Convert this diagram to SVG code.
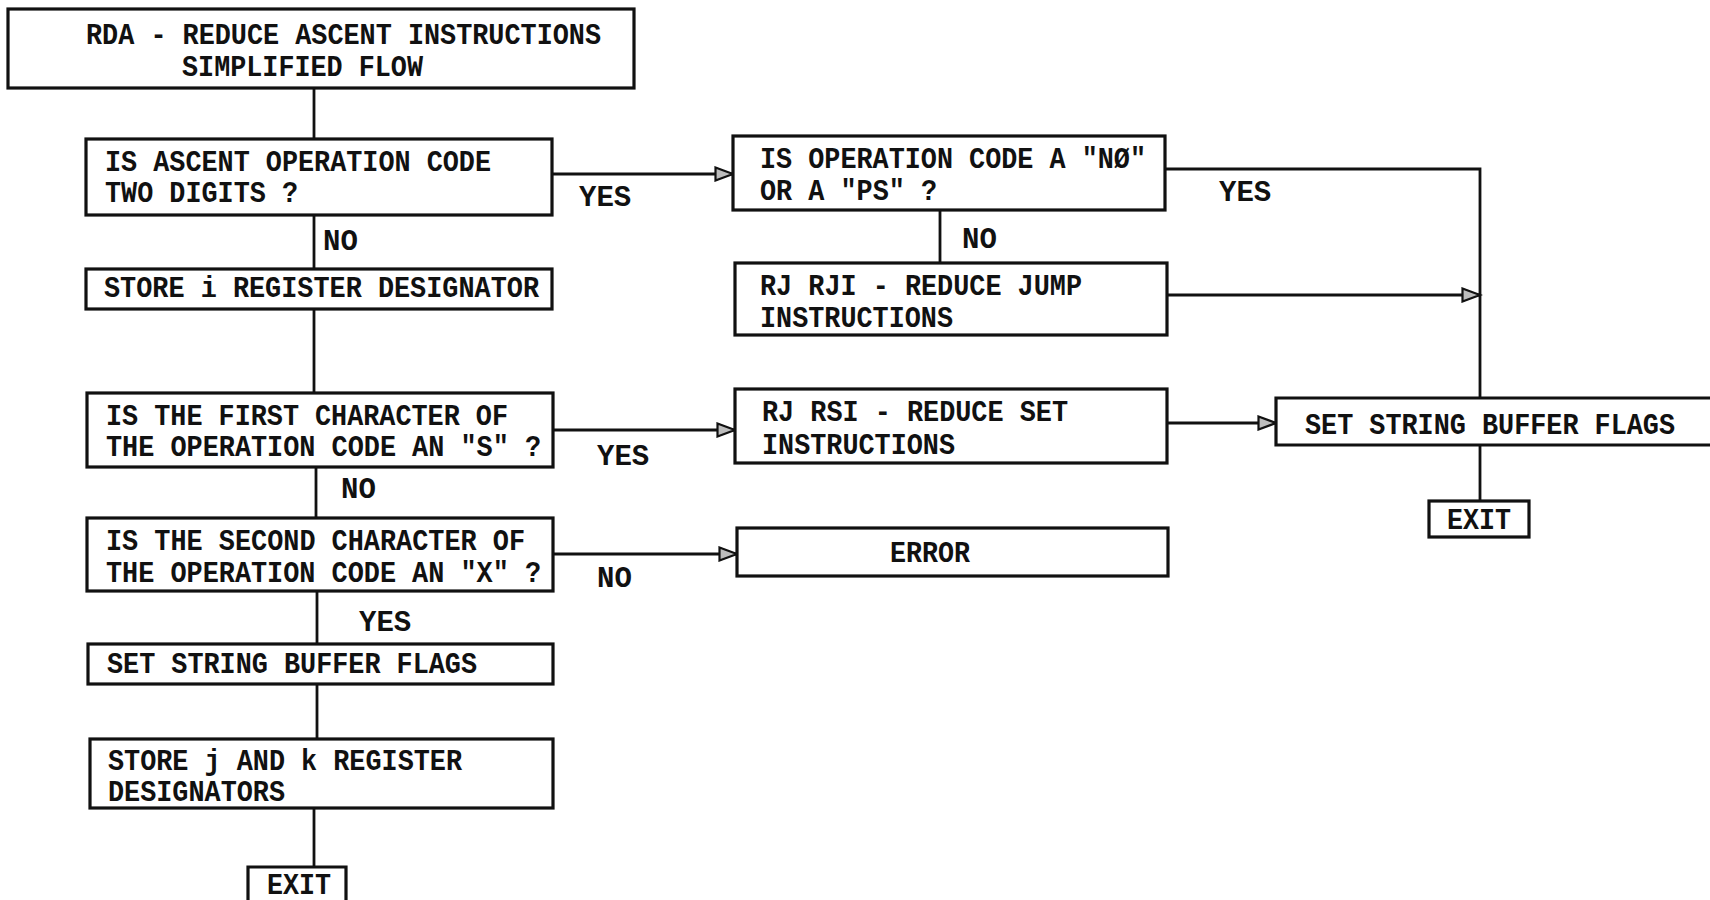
<svg xmlns="http://www.w3.org/2000/svg" width="1710" height="900" viewBox="0 0 1710 900">
<style>
.bg{fill:#fff}
.box{fill:#fff;stroke:#111;stroke-width:3.2}
.con{fill:none;stroke:#111;stroke-width:2.8}
.t{font-family:"Liberation Mono","Courier New",monospace;font-size:29px;font-weight:bold;fill:#111}
.lbl{font-family:"Liberation Mono","Courier New",monospace;font-size:29px;font-weight:bold;fill:#111}
</style>
<defs>
<marker id="arr" markerWidth="22" markerHeight="16" refX="19" refY="8" orient="auto" markerUnits="userSpaceOnUse">
<path d="M1.5,1.5 L19,8 L1.5,14.5 Z" fill="#bdbdbd" stroke="#111" stroke-width="2.2"/>
</marker>
</defs>
<rect class="bg" x="0" y="0" width="1710" height="900"/>
<g id="connectors">
<line class="con" x1="314" y1="88" x2="314" y2="139"/>
<line class="con" x1="552" y1="174" x2="733" y2="174" marker-end="url(#arr)"/>
<path class="con" d="M1165,169 H1480 V398"/>
<line class="con" x1="940" y1="210" x2="940" y2="263"/>
<line class="con" x1="1167" y1="295" x2="1480" y2="295" marker-end="url(#arr)"/>
<line class="con" x1="314" y1="215" x2="314" y2="269"/>
<line class="con" x1="314" y1="309" x2="314" y2="393"/>
<line class="con" x1="553" y1="430" x2="735" y2="430" marker-end="url(#arr)"/>
<line class="con" x1="1167" y1="423" x2="1276" y2="423" marker-end="url(#arr)"/>
<line class="con" x1="1480" y1="445" x2="1480" y2="501"/>
<line class="con" x1="316" y1="467" x2="316" y2="518"/>
<line class="con" x1="553" y1="554" x2="737" y2="554" marker-end="url(#arr)"/>
<line class="con" x1="317" y1="591" x2="317" y2="644"/>
<line class="con" x1="317" y1="684" x2="317" y2="739"/>
<line class="con" x1="314" y1="808" x2="314" y2="867"/>
<text class="lbl" x="579" y="206">YES</text>
<text class="lbl" x="1219" y="201">YES</text>
<text class="lbl" x="962" y="248">NO</text>
<text class="lbl" x="323" y="250">NO</text>
<text class="lbl" x="597" y="465">YES</text>
<text class="lbl" x="341" y="498">NO</text>
<text class="lbl" x="597" y="587">NO</text>
<text class="lbl" x="359" y="631">YES</text>
</g>
<g id="title">
<rect class="box" x="8" y="9" width="626" height="79"/>
<text class="t" x="86" y="44" textLength="515" lengthAdjust="spacingAndGlyphs">RDA - REDUCE ASCENT INSTRUCTIONS</text>
<text class="t" x="182" y="76" textLength="241" lengthAdjust="spacingAndGlyphs">SIMPLIFIED FLOW</text>
</g>
<g id="q-two-digits">
<rect class="box" x="86" y="139" width="466" height="76"/>
<text class="t" x="105" y="171" textLength="386" lengthAdjust="spacingAndGlyphs">IS ASCENT OPERATION CODE</text>
<text class="t" x="105" y="202" textLength="193" lengthAdjust="spacingAndGlyphs">TWO DIGITS ?</text>
</g>
<g id="q-no-ps">
<rect class="box" x="733" y="136" width="432" height="74"/>
<text class="t" x="760" y="168" textLength="386" lengthAdjust="spacingAndGlyphs">IS OPERATION CODE A "NØ"</text>
<text class="t" x="760" y="200" textLength="177" lengthAdjust="spacingAndGlyphs">OR A "PS" ?</text>
</g>
<g id="rj-rji">
<rect class="box" x="735" y="263" width="432" height="72"/>
<text class="t" x="760" y="295" textLength="322" lengthAdjust="spacingAndGlyphs">RJ RJI - REDUCE JUMP</text>
<text class="t" x="760" y="327" textLength="193" lengthAdjust="spacingAndGlyphs">INSTRUCTIONS</text>
</g>
<g id="store-i">
<rect class="box" x="86" y="269" width="466" height="40"/>
<text class="t" x="104" y="297" textLength="435" lengthAdjust="spacingAndGlyphs">STORE i REGISTER DESIGNATOR</text>
</g>
<g id="q-first-s">
<rect class="box" x="87" y="393" width="466" height="74"/>
<text class="t" x="106" y="425" textLength="402" lengthAdjust="spacingAndGlyphs">IS THE FIRST CHARACTER OF</text>
<text class="t" x="106" y="456" textLength="435" lengthAdjust="spacingAndGlyphs">THE OPERATION CODE AN "S" ?</text>
</g>
<g id="rj-rsi">
<rect class="box" x="735" y="389" width="432" height="74"/>
<text class="t" x="762" y="421" textLength="306" lengthAdjust="spacingAndGlyphs">RJ RSI - REDUCE SET</text>
<text class="t" x="762" y="454" textLength="193" lengthAdjust="spacingAndGlyphs">INSTRUCTIONS</text>
</g>
<g id="set-flags-right">
<path class="box" d="M1716,398 H1276 V445 H1716"/>
<text class="t" x="1305" y="434" textLength="370" lengthAdjust="spacingAndGlyphs">SET STRING BUFFER FLAGS</text>
</g>
<g id="exit-right">
<rect class="box" x="1429" y="501" width="100" height="36"/>
<text class="t" x="1479" y="529" text-anchor="middle" textLength="64" lengthAdjust="spacingAndGlyphs">EXIT</text>
</g>
<g id="q-second-x">
<rect class="box" x="87" y="518" width="466" height="73"/>
<text class="t" x="106" y="550" textLength="419" lengthAdjust="spacingAndGlyphs">IS THE SECOND CHARACTER OF</text>
<text class="t" x="106" y="582" textLength="435" lengthAdjust="spacingAndGlyphs">THE OPERATION CODE AN "X" ?</text>
</g>
<g id="error">
<rect class="box" x="737" y="528" width="431" height="48"/>
<text class="t" x="930" y="562" text-anchor="middle" textLength="80" lengthAdjust="spacingAndGlyphs">ERROR</text>
</g>
<g id="set-flags-left">
<rect class="box" x="88" y="644" width="465" height="40"/>
<text class="t" x="107" y="673" textLength="370" lengthAdjust="spacingAndGlyphs">SET STRING BUFFER FLAGS</text>
</g>
<g id="store-jk">
<rect class="box" x="90" y="739" width="463" height="69"/>
<text class="t" x="108" y="770" textLength="354" lengthAdjust="spacingAndGlyphs">STORE j AND k REGISTER</text>
<text class="t" x="108" y="801" textLength="177" lengthAdjust="spacingAndGlyphs">DESIGNATORS</text>
</g>
<g id="exit-left">
<path class="box" d="M248,905 V867 H346 V905"/>
<text class="t" x="299" y="894" text-anchor="middle" textLength="64" lengthAdjust="spacingAndGlyphs">EXIT</text>
</g>
</svg>
